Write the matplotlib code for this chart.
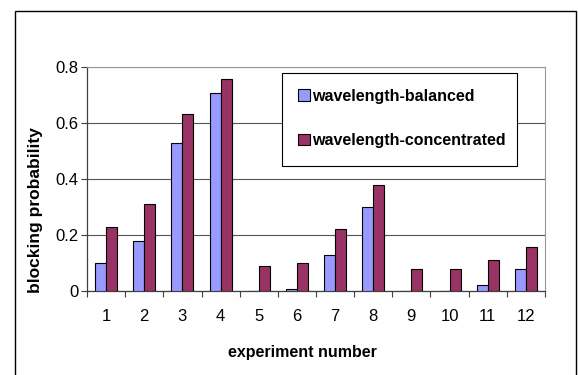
import matplotlib

matplotlib.use("Agg")
import matplotlib.pyplot as plt
import numpy as np
from matplotlib.patches import Rectangle
from matplotlib.ticker import FixedLocator, FuncFormatter

plt.rcParams.update({"font.family": ["Liberation Sans", "DejaVu Sans"], "font.size": 11})

experiments = ["1", "2", "3", "4", "5", "6", "7", "8", "9", "10", "11", "12"]
balanced = [0.10, 0.177, 0.53, 0.708, 0.0, 0.008, 0.13, 0.30, 0.0, 0.0, 0.02, 0.08]
concentrated = [0.229, 0.31, 0.631, 0.758, 0.09, 0.10, 0.22, 0.38, 0.08, 0.08, 0.11, 0.157]
series_names = ["wavelength-balanced", "wavelength-concentrated"]

W, H = 578, 375
fig = plt.figure(figsize=(W / 100, H / 100), dpi=100)

# outer chart frame (bottom edge runs off the canvas)
fig.patches.append(Rectangle((14.5 / W, -0.05), (575.5 - 14.5) / W, 1.05 - 11.5 / H,
                             transform=fig.transFigure, fill=False,
                             edgecolor="black", linewidth=1.0))

ax_l, ax_b, ax_w, ax_h = 87, 84, 458, 224
ax = fig.add_axes([ax_l / W, ax_b / H, ax_w / W, ax_h / H])


def px(xp, yp):
    # pixel position (from top-left) -> axes fraction
    return (xp - ax_l) / ax_w, (H - yp - ax_b) / ax_h


x = np.arange(len(experiments))
w = 0.29
ax.bar(x - w / 2, balanced, w, color="#9999ff", edgecolor="black", linewidth=0.8,
       label=series_names[0], zorder=3)
ax.bar(x + w / 2, concentrated, w, color="#993366", edgecolor="black", linewidth=0.8,
       label=series_names[1], zorder=3)

ax.set_xlim(-0.5, len(experiments) - 0.5)
ax.set_ylim(0, 0.8)
ax.set_yticks([0, 0.2, 0.4, 0.6, 0.8])
ax.yaxis.set_major_formatter(FuncFormatter(lambda v, p: "0" if v == 0 else f"{v:.1f}"))
ax.yaxis.grid(True, color="#555555", linewidth=0.8, zorder=0)

ax.set_xticks(x)
ax.set_xticklabels(experiments)
ax.tick_params(axis="x", which="major", length=0, pad=13, labelsize=12)
ax.xaxis.set_minor_locator(FixedLocator(np.arange(-0.5, len(experiments), 1.0)))
ax.tick_params(axis="x", which="minor", length=4, width=0.8, color="#404040")
ax.tick_params(axis="y", length=4, width=0.8, color="#404040", labelsize=12, pad=2)

for side in ["left", "bottom"]:
    ax.spines[side].set_color("#404040")
    ax.spines[side].set_linewidth(0.9)
for side in ["top", "right"]:
    ax.spines[side].set_color("#999999")
    ax.spines[side].set_linewidth(0.8)

ax.set_xlabel("experiment number", fontweight="bold", fontsize=11.5)
ax.xaxis.set_label_coords(*px(302, 345))
ax.set_ylabel("blocking probability", fontweight="bold", fontsize=12.5)
ax.yaxis.set_label_coords(*px(43, 210))

# legend box drawn separately so its size can be set exactly
x0, y0 = px(282, 166)
x1, y1 = px(517, 73)
ax.add_patch(Rectangle((x0, y0), x1 - x0, y1 - y0, transform=ax.transAxes,
                       facecolor="white", edgecolor="black", linewidth=0.8,
                       zorder=4, clip_on=False))
leg = ax.legend(loc="center left", bbox_to_anchor=px(298, 118.5),
                frameon=False, prop={"weight": "bold", "size": 11.5},
                handlelength=0.74, handleheight=0.74, handletextpad=0.12,
                labelspacing=1.85, borderpad=0, borderaxespad=0)
leg.set_zorder(5)

fig.savefig("out.png", dpi=100)
